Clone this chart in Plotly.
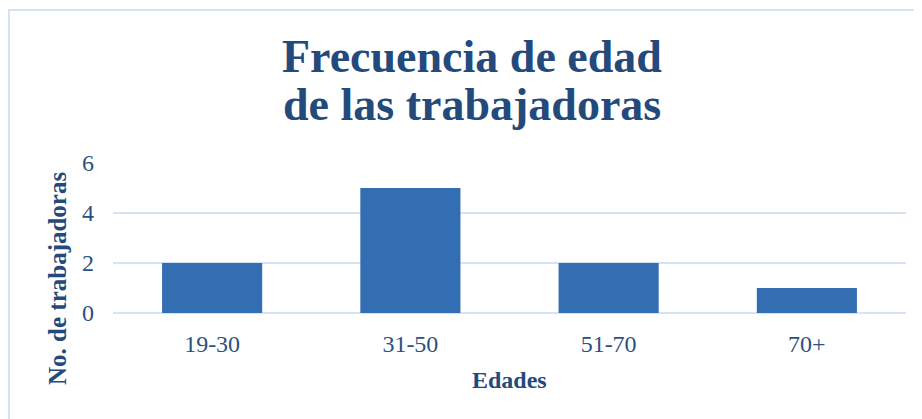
import plotly.graph_objects as go

categories = ["19-30", "31-50", "51-70", "70+"]
counts = [2, 5, 2, 1]
y_ticks = [0, 2, 4, 6]

# page renders with an 8px body margin; target page coords minus OFF = figure coords
OFF = 8
W, H = 922, 419
PL, PT = 113 - OFF, 163 - OFF
pw, ph = 793, 150
L, T = PL, PT
R = W - L - pw
B = H - T - ph

def px_x(x):
    return (x - OFF - L) / pw

def px_y(y):
    return (T + ph - (y - OFF)) / ph

font = "Liberation Serif"
dark = "#244A7C"
tick_col = "#2B5183"
grid = "#D6E3F3"

fig = go.Figure(go.Bar(
    x=categories, y=counts,
    marker=dict(color="#336DB2", line=dict(width=0)),
    width=0.505,
))

fig.update_layout(
    width=W, height=H,
    margin=dict(l=L, r=R, t=T, b=B),
    paper_bgcolor="white", plot_bgcolor="white",
    showlegend=False,
    xaxis=dict(showgrid=False, showline=False, zeroline=False, ticks="",
               tickfont=dict(family=font, size=24, color=tick_col),
               ticklabelstandoff=14),
    yaxis=dict(range=[0, 6], tickvals=y_ticks, showgrid=True, gridcolor=grid, gridwidth=2,
               zeroline=True, zerolinecolor=grid, zerolinewidth=2, showline=False, ticks="",
               tickfont=dict(family=font, size=24, color=tick_col),
               ticklabelstandoff=18),
    annotations=[
        dict(text="<b>Frecuencia de edad</b>", xref="paper", yref="paper",
             x=px_x(472), y=px_y(57), xanchor="center", yanchor="middle", showarrow=False,
             font=dict(family=font, size=46, color=dark)),
        dict(text="<b>de las trabajadoras</b>", xref="paper", yref="paper",
             x=px_x(472), y=px_y(104), xanchor="center", yanchor="middle", showarrow=False,
             font=dict(family=font, size=46, color=dark)),
        dict(text="<b>No. de trabajadoras</b>", xref="paper", yref="paper",
             x=px_x(57), y=px_y(278), xanchor="center", yanchor="middle", showarrow=False,
             textangle=-90, font=dict(family=font, size=25, color=dark)),
        dict(text="<b>Edades</b>", xref="paper", yref="paper",
             x=px_x(509), y=px_y(380), xanchor="center", yanchor="middle", showarrow=False,
             font=dict(family=font, size=24, color=dark)),
    ],
    shapes=[
        dict(type="line", xref="paper", yref="paper", x0=px_x(8), x1=px_x(940),
             y0=px_y(10), y1=px_y(10), line=dict(color="#D5E2F2", width=2)),
        dict(type="line", xref="paper", yref="paper", x0=px_x(9), x1=px_x(9),
             y0=px_y(10), y1=px_y(440), line=dict(color="#D5E2F2", width=2)),
    ],
)

fig.write_html("out.html")
